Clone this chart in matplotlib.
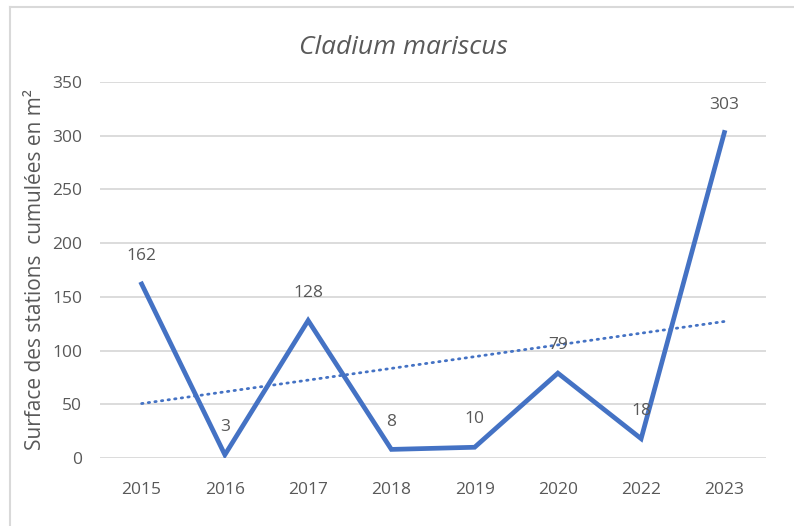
import numpy as np
import matplotlib.pyplot as plt
from matplotlib.lines import Line2D

# données
annees = ['2015', '2016', '2017', '2018', '2019', '2020', '2022', '2023']
surfaces = [162, 3, 128, 8, 10, 79, 18, 303]
graduations_y = [0, 50, 100, 150, 200, 250, 300, 350]

bleu = '#4472C4'
gris_texte = '#595959'
gris_grille = '#D9D9D9'

plt.rcParams['font.family'] = ['Open Sans', 'DejaVu Sans']

fig = plt.figure(figsize=(7.94, 5.26), dpi=100)
ax = fig.add_axes([100 / 794, 68 / 526, 666 / 794, 376 / 526])

x = np.arange(len(annees))
ax.plot(x, surfaces, color=bleu, linewidth=3.4, solid_joinstyle='miter', zorder=3)

# courbe de tendance linéaire
pente, origine = np.polyfit(x, surfaces, 1)
ax.plot(x[[0, -1]], pente * x[[0, -1]] + origine, color=bleu, linewidth=2.0,
        linestyle=(0, (0.5, 1.9)), dash_capstyle='round', zorder=2)

# étiquettes de données
for xi, v in zip(x, surfaces):
    ax.annotate(str(v), (xi, v), xytext=(0, 20), textcoords='offset points',
                ha='center', va='center', fontsize=12.5, color=gris_texte, zorder=4)

ax.set_xlim(-0.5, len(annees) - 0.5)
ax.set_ylim(0, 350)
ax.set_xticks(x)
ax.set_xticklabels(annees)
ax.set_yticks(graduations_y)
ax.grid(axis='y', color=gris_grille, linewidth=1.3)
ax.set_axisbelow(True)
for s in ax.spines.values():
    s.set_visible(False)
ax.tick_params(length=0, labelsize=12.5, labelcolor=gris_texte)
ax.tick_params(axis='x', pad=17)
ax.tick_params(axis='y', pad=13)

ax.set_ylabel('Surface des stations  cumulées en m²', fontsize=15, color=gris_texte, labelpad=4)
fig.text(403 / 794, 1 - 47 / 526, 'Cladium mariscus', ha='center', va='center',
         fontsize=19, style='italic', color=gris_texte)

# cadre du graphique
fig.add_artist(Line2D([10 / 794, 1], [1 - 7 / 526, 1 - 7 / 526], color=gris_grille, linewidth=1.5))
fig.add_artist(Line2D([10 / 794, 10 / 794], [0, 1 - 7 / 526], color=gris_grille, linewidth=1.5))

fig.savefig('out.png', dpi=100)
